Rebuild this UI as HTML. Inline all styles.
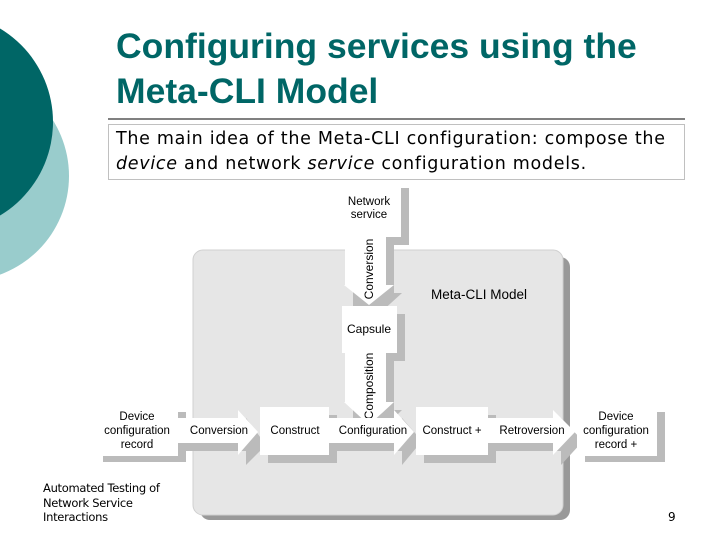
<!DOCTYPE html>
<html><head><meta charset="utf-8"><style>
html,body{margin:0;padding:0;background:#fff}
body{width:720px;height:540px;position:relative;overflow:hidden;font-family:"Liberation Sans",sans-serif}
.t{position:absolute;left:116px;top:24px;color:#006666;font-weight:bold;font-size:35.5px;line-height:45px;white-space:nowrap}
.box{position:absolute;left:108px;top:124px;width:577px;height:56px;border:1px solid #c0c0c0;box-sizing:border-box;font-family:"DejaVu Sans",sans-serif;font-size:17.5px;letter-spacing:0.7px;line-height:25px;padding:2px 0 0 7px;color:#000;white-space:nowrap}
.ft{position:absolute;left:43px;top:481px;font-family:"DejaVu Sans",sans-serif;font-size:11.5px;line-height:14.5px;letter-spacing:-0.3px}
</style></head><body>
<svg width="720" height="540" style="position:absolute;left:0;top:0">
<circle cx="-36" cy="176" r="105" fill="#99cccc"/>
<circle cx="-56" cy="122" r="109" fill="#006666"/>
<line x1="108" y1="119" x2="685" y2="119" stroke="#000" stroke-width="1"/>
<rect x="200" y="257" width="370" height="263" rx="10" fill="#999"/>
<rect x="193" y="250" width="370" height="265" rx="10" fill="#e6e6e6" stroke="#d0d0d0"/>
<g font-family="Liberation Sans,sans-serif" font-size="11.5" fill="#000" text-anchor="middle">
<rect x="345" y="188" width="64" height="57" fill="#bbb"/>
<rect x="337" y="180" width="64" height="57" fill="#fff"/>
<text x="369" y="205">Network</text><text x="369" y="218">service</text>
<polygon points="353,245 394,245 394,293 402,293 380,313 353,313" fill="#bbb"/>
<polygon points="345,237 386,237 386,285 394,285 369,305 344,285 345,285" fill="#fff"/>
<text transform="translate(373,269) rotate(-90)" font-size="12">Conversion</text>
<rect x="350" y="314" width="55" height="47" fill="#bbb"/>
<rect x="342" y="306" width="55" height="47" fill="#fff"/>
<text x="369" y="333" font-size="12">Capsule</text>
<polygon points="353,361 394,361 394,410 402,410 380,432 353,432" fill="#bbb"/>
<polygon points="345,353 386,353 386,402 394,402 369,425 344,402 345,402" fill="#fff"/>
<text transform="translate(373,386) rotate(-90)" font-size="12">Composition</text>
<rect x="103" y="412" width="83" height="50" fill="#bbb"/>
<rect x="95" y="404" width="83" height="52" fill="#fff"/>
<text x="137" y="420">Device</text><text x="137" y="434">configuration</text><text x="137" y="448">record</text>
<polygon points="186,426 246,426 246,418 266,445 246,465 246,451 186,451" fill="#bbb"/>
<polygon points="178,418 238,418 238,410 258,432 238,455 238,443 178,443" fill="#fff"/>
<text x="219" y="434">Conversion</text>
<rect x="268" y="415" width="69" height="48" fill="#bbb"/>
<rect x="260" y="407" width="69" height="48" fill="#fff"/>
<text x="295" y="434">Construct</text>
<polygon points="337,426 402,426 402,418 422,441 402,465 402,451 337,451" fill="#bbb"/>
<polygon points="329,418 394,418 394,410 414,432 394,455 394,443 329,443" fill="#fff"/>
<text x="373" y="434">Configuration</text>
<rect x="424" y="415" width="72" height="48" fill="#bbb"/>
<rect x="416" y="407" width="72" height="48" fill="#fff"/>
<text x="452" y="434">Construct +</text>
<polygon points="496,426 561,426 561,418 583,441 561,465 561,451 496,451" fill="#bbb"/>
<polygon points="488,418 553,418 553,410 575,432 553,455 553,443 488,443" fill="#fff"/>
<text x="532" y="434">Retroversion</text>
<rect x="585" y="412" width="80" height="50" fill="#bbb"/>
<rect x="577" y="404" width="80" height="52" fill="#fff"/>
<text x="616" y="420">Device</text><text x="616" y="434">configuration</text><text x="616" y="448">record +</text>
<text x="479" y="299" font-size="13.5">Meta-CLI Model</text>
</g>
</svg>
<div class="t">Configuring services using the<br>Meta-CLI Model</div>
<div class="box">The main idea of the Meta-CLI configuration: compose the<br><i>device</i> and network <i>service</i> configuration models.</div>
<div class="ft">Automated Testing of<br>Network Service<br>Interactions</div>
<div style="position:absolute;left:668px;top:510px;font-family:'DejaVu Sans',sans-serif;font-size:12px">9</div>
</body></html>
